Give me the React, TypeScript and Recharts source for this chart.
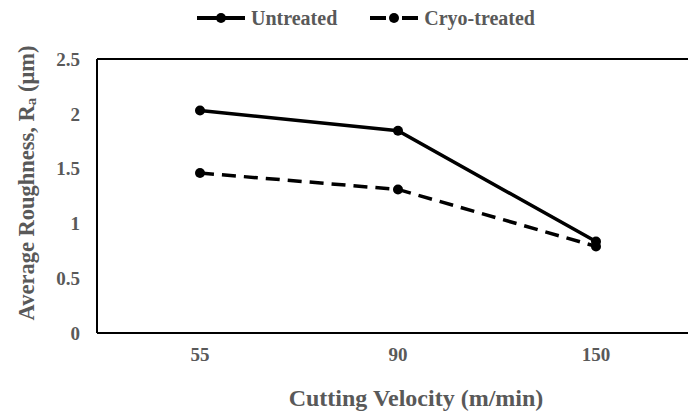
import React from "react";
import { Line, LineChart, ReferenceLine, XAxis, YAxis } from "recharts";

const velocities = ["55", "90", "150"];
const untreated = [2.03, 1.845, 0.835];
const cryoTreated = [1.46, 1.31, 0.79];
const yTicks = [0, 0.5, 1, 1.5, 2, 2.5];

const data = velocities.map((v, i) => ({ v, untreated: untreated[i], cryo: cryoTreated[i] }));

const FONT = '"Liberation Serif", "Times New Roman", serif';
const GREY = "#595959";

function LegendIcon({ dashed }: { dashed?: boolean }) {
  return (
    <svg width={50} height={12} style={{ display: "block" }}>
      {dashed ? (
        <>
          <line x1={1} y1={6} x2={17} y2={6} stroke="#000" strokeWidth={4} />
          <line x1={33} y1={6} x2={49} y2={6} stroke="#000" strokeWidth={4} />
        </>
      ) : (
        <line x1={1} y1={6} x2={49} y2={6} stroke="#000" strokeWidth={4} />
      )}
      <circle cx={25} cy={6} r={5} fill="#000" />
    </svg>
  );
}

function ChartLegend() {
  return (
    <div
      style={{
        position: "absolute",
        left: 196,
        top: 7,
        display: "flex",
        alignItems: "center",
        fontFamily: FONT,
        fontWeight: "bold",
        fontSize: 20,
        lineHeight: "22px",
        color: GREY,
      }}
    >
      <LegendIcon />
      <span style={{ marginLeft: 5 }}>Untreated</span>
      <span style={{ width: 32 }} />
      <LegendIcon dashed />
      <span style={{ marginLeft: 5 }}>Cryo-treated</span>
    </div>
  );
}

function YTitle() {
  const cx = 26;
  const cy = 183;
  return (
    <text
      x={cx}
      y={cy}
      transform={`rotate(-90 ${cx} ${cy})`}
      textAnchor="middle"
      dominantBaseline="central"
      fontFamily={FONT}
      fontWeight="bold"
      fontSize={22.5}
      fill={GREY}
    >
      Average Roughness, R
      <tspan fontSize={15} dy={5}>a</tspan>
      <tspan dy={-5}> (μm)</tspan>
    </text>
  );
}

function XTitle() {
  return (
    <text x={416} y={406} textAnchor="middle" fontFamily={FONT} fontWeight="bold" fontSize={24} fill={GREY}>
      Cutting Velocity (m/min)
    </text>
  );
}

export default function App() {
  const tick = { fontFamily: FONT, fontWeight: "bold", fontSize: 19, fill: GREY };
  return (
    <div style={{ position: "absolute", left: 0, top: 0, width: 688, height: 412, overflow: "hidden", background: "#fff" }}>
      <LineChart width={700} height={412} data={data} margin={{ top: 59, right: 9, left: 37, bottom: 0 }}>
        <XAxis
          dataKey="v"
          height={79}
          padding={{ left: 103, right: 95 }}
          axisLine={{ stroke: "#000", strokeWidth: 2 }}
          tickLine={false}
          tickSize={0}
          tickMargin={15}
          tick={tick}
          label={<XTitle />}
        />
        <YAxis
          width={60}
          domain={[0, 2.5]}
          ticks={yTicks}
          axisLine={{ stroke: "#000", strokeWidth: 2 }}
          tickLine={false}
          tickSize={0}
          tickMargin={17}
          tick={tick}
          label={<YTitle />}
        />
        <ReferenceLine y={2.5} stroke="#000" strokeWidth={2} />
        <Line
          dataKey="untreated"
          stroke="#000"
          strokeWidth={3.5}
          dot={{ r: 5, fill: "#000", stroke: "#000", strokeWidth: 0 }}
          isAnimationActive={false}
        />
        <Line
          dataKey="cryo"
          stroke="#000"
          strokeWidth={3.5}
          strokeDasharray="14 8"
          dot={{ r: 5, fill: "#000", stroke: "#000", strokeWidth: 0 }}
          isAnimationActive={false}
        />
      </LineChart>
      <ChartLegend />
    </div>
  );
}
